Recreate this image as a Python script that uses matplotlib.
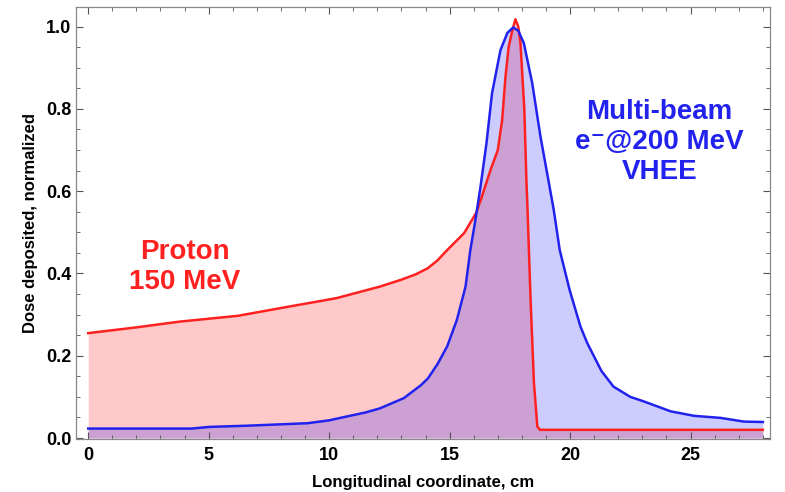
import numpy as np
import matplotlib
matplotlib.use("Agg")
import matplotlib.pyplot as plt
from matplotlib.ticker import MultipleLocator, FormatStrFormatter

plt.rcParams['font.family'] = ['Liberation Sans', 'DejaVu Sans']

# proton 150 MeV depth dose
proton_x = [0, 2.0, 3.8, 6.2, 8.0, 10.3, 12.1, 13.0, 13.6, 14.1, 14.5, 14.9, 15.6, 16.1, 16.3,
            16.7, 17.0, 17.18, 17.32, 17.45, 17.6, 17.73, 17.85, 17.94, 18.02, 18.1, 18.19,
            18.22, 18.36, 18.5, 18.64, 18.75, 28]
proton_y = [0.255, 0.269, 0.283, 0.297, 0.316, 0.34, 0.368, 0.385, 0.398, 0.413, 0.432, 0.457,
            0.498, 0.547, 0.58, 0.652, 0.70, 0.773, 0.879, 0.951, 0.99, 1.018, 1.0, 0.96, 0.88,
            0.80, 0.62, 0.579, 0.336, 0.134, 0.028, 0.02, 0.02]

# VHEE multi-beam electrons 200 MeV
vhee_x = [0, 4.3, 5.0, 6.6, 9.1, 10.0, 10.7, 11.5, 12.1, 13.1, 13.8, 14.1, 14.5, 14.9, 15.3,
          15.66, 15.86, 16.07, 16.28, 16.53, 16.76, 17.11, 17.4, 17.64, 17.85, 18.08, 18.43,
          18.77, 19.12, 19.32, 19.57, 19.98, 20.43, 20.71, 21.3, 21.8, 22.5, 23.06, 24.17,
          25.14, 26.24, 27.21, 28]
vhee_y = [0.023, 0.023, 0.027, 0.03, 0.036, 0.043, 0.052, 0.062, 0.072, 0.097, 0.128, 0.145,
          0.18, 0.223, 0.287, 0.368, 0.457, 0.53, 0.61, 0.717, 0.838, 0.943, 0.985, 0.998,
          0.99, 0.96, 0.862, 0.733, 0.62, 0.555, 0.457, 0.36, 0.271, 0.231, 0.163, 0.125,
          0.10, 0.089, 0.065, 0.054, 0.049, 0.04, 0.039]

red = '#ff2020'
blue = '#2222ee'

fig = plt.figure(figsize=(7.85, 4.92), dpi=100)
ax = fig.add_axes([0.097, 0.108, 0.884, 0.878])

ax.fill_between(proton_x, 0, proton_y, color=(1, 0, 0), alpha=0.21, linewidth=0)
ax.fill_between(vhee_x, 0, vhee_y, color=(0, 0, 1), alpha=0.2, linewidth=0)
ax.plot(proton_x, proton_y, color=red, lw=1.8)
ax.plot(vhee_x, vhee_y, color=blue, lw=1.8)

ax.set_xlim(-0.5, 28.3)
ax.set_ylim(-0.002, 1.048)
ax.xaxis.set_major_locator(MultipleLocator(5))
ax.xaxis.set_minor_locator(MultipleLocator(1))
ax.yaxis.set_major_locator(MultipleLocator(0.2))
ax.yaxis.set_minor_locator(MultipleLocator(0.05))
ax.yaxis.set_major_formatter(FormatStrFormatter('%.1f'))
ax.tick_params(which='both', direction='in', top=True, right=True, color='#555555')
ax.tick_params(which='major', length=5, width=0.8, labelsize=13)
ax.tick_params(axis='x', which='major', pad=6)
ax.tick_params(which='minor', length=3, width=0.6)
for lab in ax.get_xticklabels() + ax.get_yticklabels():
    lab.set_fontweight('bold')
for sp in ax.spines.values():
    sp.set_color('#888888')
    sp.set_linewidth(0.9)

ax.set_xlabel('Longitudinal coordinate, cm', fontsize=12, fontweight='bold', labelpad=8)
ax.set_ylabel('Dose deposited, normalized', fontsize=12, fontweight='bold', labelpad=6)

ax.text(4.0, 0.415, 'Proton\n150 MeV', color=red, fontsize=20, fontweight='bold',
        ha='center', va='center', linespacing=1.2)
ax.text(23.7, 0.72, 'Multi-beam\ne\u207b@200 MeV\nVHEE', color=blue, fontsize=20,
        fontweight='bold', ha='center', va='center', linespacing=1.2)

fig.savefig('out.png', dpi=100)
